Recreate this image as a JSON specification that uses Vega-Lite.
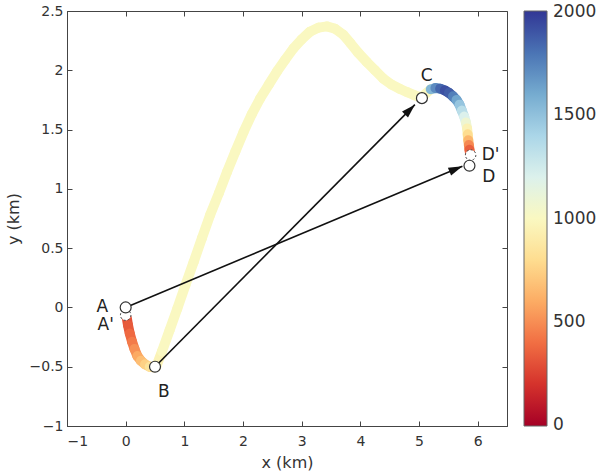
{
  "$schema": "https://vega.github.io/schema/vega-lite/v6.json",
  "width": 440,
  "height": 415,
  "autosize": "none",
  "padding": {"left": 67, "top": 11, "right": 93, "bottom": 47},
  "background": "white",
  "config": {
    "font": "DejaVu Sans",
    "view": {"stroke": "#444", "strokeWidth": 1},
    "axis": {
      "domainColor": "#444",
      "tickColor": "#444",
      "tickSize": -5,
      "labelColor": "#333",
      "labelFontSize": 14,
      "labelFont": "DejaVu Sans",
      "grid": false,
      "titleFontSize": 16,
      "titleFontWeight": "normal",
      "titleColor": "#333",
      "titleFont": "DejaVu Sans"
    }
  },
  "datasets": {
    "trail": [
      {"i": 1, "x": 0.02, "y": -0.09, "v": 300},
      {"i": 2, "x": 0.04, "y": -0.15, "v": 330},
      {"i": 3, "x": 0.07, "y": -0.22, "v": 380},
      {"i": 4, "x": 0.11, "y": -0.29, "v": 440},
      {"i": 5, "x": 0.15, "y": -0.35, "v": 510},
      {"i": 6, "x": 0.20, "y": -0.41, "v": 590},
      {"i": 7, "x": 0.26, "y": -0.45, "v": 670},
      {"i": 8, "x": 0.33, "y": -0.48, "v": 750},
      {"i": 9, "x": 0.41, "y": -0.50, "v": 840},
      {"i": 10, "x": 0.48, "y": -0.505, "v": 920},
      {"i": 11, "x": 0.52, "y": -0.50, "v": 960},
      {"i": 12, "x": 0.62, "y": -0.37, "v": 1000},
      {"i": 13, "x": 0.75, "y": -0.19, "v": 1000},
      {"i": 14, "x": 0.88, "y": -0.01, "v": 1000},
      {"i": 15, "x": 1.02, "y": 0.19, "v": 1000},
      {"i": 16, "x": 1.16, "y": 0.385, "v": 1000},
      {"i": 17, "x": 1.30, "y": 0.585, "v": 1000},
      {"i": 18, "x": 1.44, "y": 0.78, "v": 1000},
      {"i": 19, "x": 1.59, "y": 0.965, "v": 1000},
      {"i": 20, "x": 1.73, "y": 1.145, "v": 1000},
      {"i": 21, "x": 1.87, "y": 1.315, "v": 1000},
      {"i": 22, "x": 2.01, "y": 1.48, "v": 1000},
      {"i": 23, "x": 2.15, "y": 1.63, "v": 1000},
      {"i": 24, "x": 2.29, "y": 1.76, "v": 1000},
      {"i": 25, "x": 2.44, "y": 1.88, "v": 1000},
      {"i": 26, "x": 2.58, "y": 1.99, "v": 1000},
      {"i": 27, "x": 2.72, "y": 2.09, "v": 1000},
      {"i": 28, "x": 2.86, "y": 2.185, "v": 1000},
      {"i": 29, "x": 3.00, "y": 2.26, "v": 1000},
      {"i": 30, "x": 3.14, "y": 2.325, "v": 1000},
      {"i": 31, "x": 3.29, "y": 2.36, "v": 1000},
      {"i": 32, "x": 3.43, "y": 2.37, "v": 1000},
      {"i": 33, "x": 3.57, "y": 2.35, "v": 1000},
      {"i": 34, "x": 3.71, "y": 2.30, "v": 1000},
      {"i": 35, "x": 3.83, "y": 2.23, "v": 1000},
      {"i": 36, "x": 3.96, "y": 2.15, "v": 1000},
      {"i": 37, "x": 4.11, "y": 2.07, "v": 1000},
      {"i": 38, "x": 4.25, "y": 2.00, "v": 1000},
      {"i": 39, "x": 4.39, "y": 1.93, "v": 1000},
      {"i": 40, "x": 4.53, "y": 1.88, "v": 1000},
      {"i": 41, "x": 4.67, "y": 1.845, "v": 1000},
      {"i": 42, "x": 4.80, "y": 1.815, "v": 1000},
      {"i": 43, "x": 4.92, "y": 1.79, "v": 1000},
      {"i": 44, "x": 5.04, "y": 1.77, "v": 1000},
      {"i": 45, "x": 5.20, "y": 1.84, "v": 1550},
      {"i": 46, "x": 5.28, "y": 1.85, "v": 1720},
      {"i": 47, "x": 5.36, "y": 1.845, "v": 1850},
      {"i": 48, "x": 5.44, "y": 1.83, "v": 1920},
      {"i": 49, "x": 5.51, "y": 1.81, "v": 1880},
      {"i": 50, "x": 5.58, "y": 1.78, "v": 1760},
      {"i": 51, "x": 5.64, "y": 1.75, "v": 1620},
      {"i": 52, "x": 5.69, "y": 1.71, "v": 1480},
      {"i": 53, "x": 5.73, "y": 1.66, "v": 1340},
      {"i": 54, "x": 5.77, "y": 1.61, "v": 1200},
      {"i": 55, "x": 5.80, "y": 1.56, "v": 1080},
      {"i": 56, "x": 5.82, "y": 1.51, "v": 950},
      {"i": 57, "x": 5.83, "y": 1.46, "v": 800},
      {"i": 58, "x": 5.84, "y": 1.41, "v": 640},
      {"i": 59, "x": 5.85, "y": 1.37, "v": 480},
      {"i": 60, "x": 5.86, "y": 1.33, "v": 350},
      {"i": 61, "x": 5.87, "y": 1.30, "v": 280}
    ],
    "arrows": [
      {"name": "AD", "x": 0, "y": 0, "tx": 5.74, "ty": 1.19},
      {"name": "BC", "x": 0.5, "y": -0.5, "tx": 4.93, "ty": 1.71}
    ],
    "ghosts": [
      {"name": "A'", "x": 0.0, "y": -0.065},
      {"name": "D'", "x": 5.88, "y": 1.285}
    ],
    "circles": [
      {"name": "A", "x": 0.0, "y": 0.0},
      {"name": "B", "x": 0.5, "y": -0.5},
      {"name": "C", "x": 5.05, "y": 1.765},
      {"name": "D", "x": 5.86, "y": 1.195}
    ],
    "labels": [
      {"label": "A", "x": -0.4, "y": 0.0},
      {"label": "A'", "x": -0.34, "y": -0.15},
      {"label": "B", "x": 0.65, "y": -0.71},
      {"label": "C", "x": 5.13, "y": 1.95},
      {"label": "D'", "x": 6.22, "y": 1.285},
      {"label": "D", "x": 6.19, "y": 1.10}
    ]
  },
  "layer": [
    {
      "data": {"name": "trail"},
      "transform": [
        {"window": [{"op": "lead", "field": "x", "as": "xn"}, {"op": "lead", "field": "y", "as": "yn"}], "sort": [{"field": "i"}]},
        {"filter": "datum.xn != null"}
      ],
      "mark": {"type": "rule", "strokeWidth": 10, "strokeCap": "round"},
      "encoding": {
        "x": {"field": "x", "type": "quantitative", "title": "x (km)",
              "scale": {"domain": [-1, 6.5], "nice": false, "zero": false},
              "axis": {"orient": "bottom", "values": [-1, 0, 1, 2, 3, 4, 5, 6], "format": "~g", "labelPadding": 13, "titlePadding": 6}},
        "y": {"field": "y", "type": "quantitative", "title": "y (km)",
              "scale": {"domain": [-1, 2.5], "nice": false, "zero": false},
              "axis": {"orient": "left", "values": [-1, -0.5, 0, 0.5, 1, 1.5, 2, 2.5], "format": "~g", "labelPadding": 9, "titlePadding": 8}},
        "x2": {"field": "xn"},
        "y2": {"field": "yn"},
        "color": {"field": "v", "type": "quantitative",
                  "scale": {"scheme": "redyellowblue", "domain": [-5, 2005]},
                  "legend": {"orient": "none", "legendX": 457, "legendY": 0, "direction": "vertical",
                             "gradientLength": 415, "gradientThickness": 23, "title": null, "format": "d",
                             "values": [0, 500, 1000, 1500, 2000], "labelFontSize": 17, "labelColor": "#333",
                             "labelFont": "DejaVu Sans", "labelOffset": 6, "padding": 0,
                             "gradientStrokeColor": "#666", "gradientStrokeWidth": 1}}
      }
    },
    {
      "data": {"name": "arrows"},
      "mark": {"type": "rule", "color": "#111", "strokeWidth": 1.6},
      "encoding": {
        "x": {"field": "x", "type": "quantitative", "axis": null},
        "y": {"field": "y", "type": "quantitative", "axis": null},
        "x2": {"field": "tx"},
        "y2": {"field": "ty"}
      }
    },
    {
      "data": {"name": "arrows"},
      "transform": [{"filter": "datum.name == 'AD'"}],
      "mark": {"type": "point", "shape": "M0,0L-0.6,2L0.6,2Z", "filled": true, "color": "#111", "opacity": 1, "size": 196, "angle": 67.3},
      "encoding": {
        "x": {"field": "tx", "type": "quantitative", "axis": null},
        "y": {"field": "ty", "type": "quantitative", "axis": null}
      }
    },
    {
      "data": {"name": "arrows"},
      "transform": [{"filter": "datum.name == 'BC'"}],
      "mark": {"type": "point", "shape": "M0,0L-0.6,2L0.6,2Z", "filled": true, "color": "#111", "opacity": 1, "size": 196, "angle": 44.9},
      "encoding": {
        "x": {"field": "tx", "type": "quantitative", "axis": null},
        "y": {"field": "ty", "type": "quantitative", "axis": null}
      }
    },
    {
      "data": {"name": "ghosts"},
      "mark": {"type": "point", "shape": "circle", "filled": true, "fill": "white", "stroke": "#444", "strokeWidth": 1, "strokeDash": [2, 2], "opacity": 1, "size": 110},
      "encoding": {
        "x": {"field": "x", "type": "quantitative", "axis": null},
        "y": {"field": "y", "type": "quantitative", "axis": null}
      }
    },
    {
      "data": {"name": "circles"},
      "mark": {"type": "point", "shape": "circle", "filled": true, "fill": "white", "stroke": "#333", "strokeWidth": 1.2, "opacity": 1, "size": 120},
      "encoding": {
        "x": {"field": "x", "type": "quantitative",
              "axis": {"orient": "top", "labels": false, "title": null, "domain": false, "values": [-1, 0, 1, 2, 3, 4, 5, 6]}},
        "y": {"field": "y", "type": "quantitative",
              "axis": {"orient": "right", "labels": false, "title": null, "domain": false, "values": [-1, -0.5, 0, 0.5, 1, 1.5, 2, 2.5]}}
      }
    },
    {
      "data": {"name": "labels"},
      "mark": {"type": "text", "fontSize": 17, "color": "#222", "font": "DejaVu Sans"},
      "encoding": {
        "x": {"field": "x", "type": "quantitative", "axis": null},
        "y": {"field": "y", "type": "quantitative", "axis": null},
        "text": {"field": "label"}
      }
    }
  ],
  "resolve": {"axis": {"x": "independent", "y": "independent"}}
}
